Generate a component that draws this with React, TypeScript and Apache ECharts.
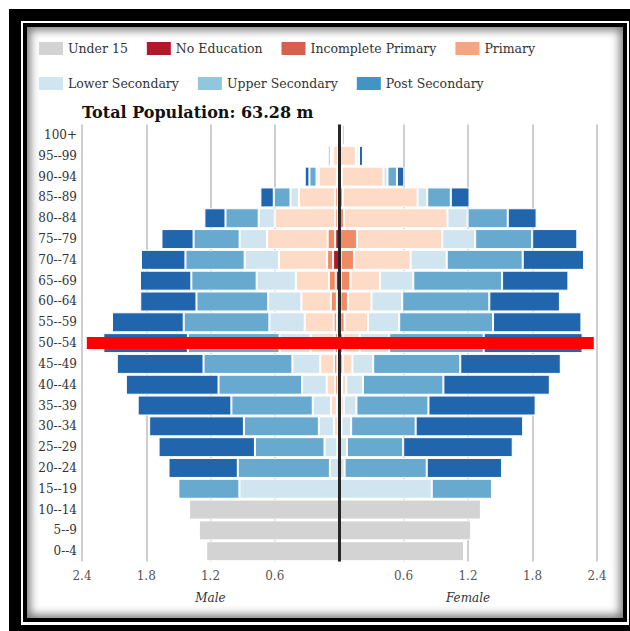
import React, { useEffect, useRef } from "react";
import * as echarts from "echarts";

// ---- data (bottom row first) ----
const ageGroups = [
  "0--4", "5--9", "10--14", "15--19", "20--24", "25--29", "30--34", "35--39", "40--44", "45--49",
  "50--54", "55--59", "60--64", "65--69", "70--74", "75--79", "80--84", "85--89", "90--94", "95--99", "100+",
];
const highlightAge = "50--54";
const titleText = "Total Population: 63.28 m";

const seriesNames = [
  "Under 15", "No Education", "Incomplete Primary", "Primary",
  "Lower Secondary", "Upper Secondary", "Post Secondary",
];

const maleUnder15 = [1.24, 1.31, 1.40, 0, 0, 0, 0, 0, 0, 0, 0, 0, 0, 0, 0, 0, 0, 0, 0, 0, 0];
const maleNoEdu = [0, 0, 0, 0, 0, 0, 0.003, 0.005, 0.01, 0.015, 0.01, 0.02, 0.02, 0.03, 0.055, 0.035, 0.01, 0.01, 0.01, 0.005, 0];
const maleIncPrimary = [0, 0, 0, 0, 0, 0.005, 0.005, 0.015, 0.025, 0.03, 0.03, 0.03, 0.056, 0.063, 0.056, 0.071, 0.025, 0.025, 0.01, 0.005, 0];
const malePrimary = [0, 0, 0, 0, 0, 0.01, 0.04, 0.055, 0.08, 0.13, 0.225, 0.27, 0.275, 0.31, 0.45, 0.566, 0.565, 0.34, 0.17, 0.045, 0.005];
const maleLowerSec = [0, 0, 0, 0.93, 0.085, 0.12, 0.14, 0.17, 0.23, 0.26, 0.29, 0.33, 0.31, 0.366, 0.32, 0.256, 0.15, 0.078, 0.02, 0.01, 0];
const maleUpperSec = [0, 0, 0, 0.57, 0.86, 0.65, 0.70, 0.76, 0.78, 0.83, 0.856, 0.80, 0.67, 0.61, 0.553, 0.43, 0.31, 0.156, 0.066, 0.015, 0];
const malePostSec = [0, 0, 0, 0, 0.647, 0.90, 0.885, 0.875, 0.865, 0.81, 0.79, 0.67, 0.525, 0.48, 0.415, 0.30, 0.197, 0.125, 0.044, 0.02, 0.005];

const femaleUnder15 = [1.165, 1.23, 1.32, 0, 0, 0, 0, 0, 0, 0, 0, 0, 0, 0, 0, 0, 0, 0, 0, 0, 0];
const femaleNoEdu = [0, 0, 0, 0, 0, 0, 0.003, 0.005, 0.008, 0.01, 0.01, 0.012, 0.013, 0.015, 0.015, 0.01, 0.01, 0.008, 0.02, 0.005, 0];
const femaleIncPrimary = [0, 0, 0, 0, 0, 0, 0.005, 0.01, 0.02, 0.025, 0.03, 0.04, 0.07, 0.091, 0.124, 0.157, 0.036, 0.028, 0.005, 0.005, 0];
const femalePrimary = [0, 0, 0, 0, 0, 0, 0.015, 0.03, 0.04, 0.09, 0.153, 0.218, 0.219, 0.274, 0.527, 0.794, 0.963, 0.695, 0.389, 0.146, 0.02];
const femaleLowerSec = [0, 0, 0, 0.863, 0.052, 0.074, 0.09, 0.117, 0.155, 0.193, 0.274, 0.29, 0.286, 0.311, 0.336, 0.306, 0.187, 0.09, 0.037, 0.01, 0];
const femaleUpperSec = [0, 0, 0, 0.56, 0.764, 0.523, 0.60, 0.67, 0.748, 0.81, 0.879, 0.873, 0.81, 0.826, 0.707, 0.53, 0.374, 0.219, 0.088, 0.02, 0.01];
const femalePostSec = [0, 0, 0, 0, 0.70, 1.019, 1.0, 0.997, 0.99, 0.935, 0.92, 0.822, 0.657, 0.617, 0.57, 0.42, 0.268, 0.174, 0.068, 0.037, 0.02];

const maleData = [maleUnder15, maleNoEdu, maleIncPrimary, malePrimary, maleLowerSec, maleUpperSec, malePostSec];
const femaleData = [femaleUnder15, femaleNoEdu, femaleIncPrimary, femalePrimary, femaleLowerSec, femaleUpperSec, femalePostSec];

const barColors = ["#d3d3d3", "#b2182b", "#ef8a62", "#fddbc7", "#d1e5f0", "#67a9cf", "#2166ac"];
const legendColors = ["#d3d3d3", "#b2182b", "#d6604d", "#f4a582", "#d1e5f0", "#92c5de", "#4393c3"];

const FONT = "DejaVu Serif";

export default function App() {
  const ref = useRef<HTMLDivElement>(null);

  useEffect(() => {
    if (!ref.current) return;
    const chart = echarts.init(ref.current, null, { renderer: "svg" });
    const hiIdx = ageGroups.indexOf(highlightAge) + 0.1;

    const grids = [
      { left: 82, top: 124.6, width: 257, height: 437 },
      { left: 339, top: 124.6, width: 258, height: 437 },
    ];

    const xAxisCommon = (idx: number, name: string) => ({
      type: "value",
      gridIndex: idx,
      min: 0,
      max: 2.4,
      interval: 0.6,
      inverse: idx === 0,
      name,
      nameLocation: "middle",
      nameGap: 30,
      nameTextStyle: { fontFamily: FONT, fontStyle: "italic", fontSize: 12, color: "#333" },
      axisLine: { show: false },
      axisTick: { show: false },
      axisLabel: {
        fontFamily: FONT,
        fontSize: 12,
        color: "#555",
        margin: 8,
        formatter: (v: number) => (Math.abs(v) < 1e-9 ? "" : v.toFixed(1)),
      },
      splitLine: { show: true, lineStyle: { color: "#cfcfcf", width: 2 } },
    });

    const yAxisCommon = (idx: number) => ({
      type: "category",
      gridIndex: idx,
      data: ageGroups,
      show: idx === 0,
      axisLine: { show: false },
      axisTick: { show: false },
      axisLabel: { fontFamily: FONT, fontSize: 12, color: "#333", margin: 5 },
      splitLine: { show: false },
    });

    const series: any[] = [];
    seriesNames.forEach((name, i) => {
      const base = {
        name,
        type: "bar",
        barCategoryGap: "4%",
        itemStyle: { color: barColors[i], borderColor: "#fff", borderWidth: 1 },
        emphasis: { disabled: true },
        z: 2,
      };
      const isLast = i === seriesNames.length - 1;
      series.push({
        ...base,
        stack: "male",
        xAxisIndex: 0,
        yAxisIndex: 0,
        data: maleData[i],
        markLine: isLast
          ? {
              silent: true,
              z: 20,
              symbol: ["none", "none"],
              label: { show: false },
              data: [
                [
                  { coord: [2.355, hiIdx], lineStyle: { color: "#ff0000", width: 12, type: "solid" } },
                  { coord: [0, hiIdx] },
                ],
              ],
            }
          : undefined,
      });
      series.push({
        ...base,
        stack: "female",
        xAxisIndex: 1,
        yAxisIndex: 1,
        data: femaleData[i],
        markLine: isLast
          ? {
              silent: true,
              z: 19,
              symbol: ["none", "none"],
              label: { show: false },
              data: [
                { xAxis: 0, lineStyle: { color: "#262626", width: 3, type: "solid" } },
                [
                  { coord: [0, hiIdx], lineStyle: { color: "#ff0000", width: 12, type: "solid" } },
                  { coord: [2.37, hiIdx] },
                ],
              ],
            }
          : undefined,
      });
    });

    const legendBase = {
      orient: "horizontal",
      icon: "rect",
      itemWidth: 24,
      itemHeight: 13,
      itemGap: 19,
      padding: 0,
      selectedMode: false,
      textStyle: { fontFamily: FONT, fontSize: 12.5, color: "#333" },
    };
    const legendItem = (i: number) => ({
      name: seriesNames[i],
      itemStyle: { color: legendColors[i], borderWidth: 0 },
    });

    chart.setOption({
      animation: false,
      backgroundColor: "transparent",
      title: {
        text: titleText,
        left: 82,
        top: 104,
        padding: 0,
        textStyle: { fontFamily: FONT, fontSize: 16, fontWeight: "bold", color: "#111" },
      },
      legend: [
        { ...legendBase, left: 39, top: 42, data: [0, 1, 2, 3].map(legendItem) },
        { ...legendBase, left: 39, top: 77, data: [4, 5, 6].map(legendItem) },
      ],
      grid: grids,
      xAxis: [xAxisCommon(0, "Male"), xAxisCommon(1, "Female")],
      yAxis: [yAxisCommon(0), yAxisCommon(1)],
      series,
    });

    return () => chart.dispose();
  }, []);

  return (
    <div style={{ position: "fixed", left: 0, top: 0, width: 630, height: 631, background: "#fff", overflow: "hidden" }}>
      <div style={{ position: "absolute", left: 9, top: 9, width: 630, height: 630, background: "#000" }} />
      <div style={{ position: "absolute", left: 21, top: 21, width: 608, height: 604, background: "#fff" }} />
      <div
        style={{
          position: "absolute",
          left: 23,
          top: 23,
          width: 604,
          height: 599,
          boxSizing: "border-box",
          border: "4px solid #000",
          background: "#fff",
          boxShadow: "inset 0 0 10px 3px rgba(0,0,0,0.55)",
        }}
      />
      <div ref={ref} style={{ position: "absolute", left: 0, top: 0, width: 630, height: 631 }} />
    </div>
  );
}
